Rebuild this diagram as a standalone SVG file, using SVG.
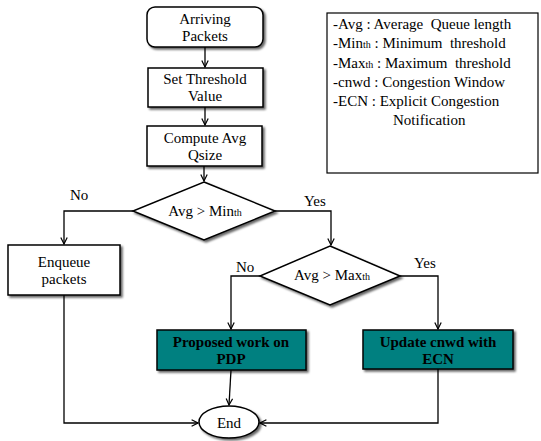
<svg xmlns="http://www.w3.org/2000/svg" width="541" height="441" viewBox="0 0 541 441">
<defs>
<marker id="arr" viewBox="0 0 10 10" refX="9" refY="5" markerWidth="8" markerHeight="8" markerUnits="userSpaceOnUse" orient="auto">
<polyline points="1,1 9,5 1,9" fill="none" stroke="#000" stroke-width="1.5"/>
</marker>
<filter id="sh" x="-10%" y="-10%" width="130%" height="140%">
<feDropShadow dx="2" dy="2" stdDeviation="1" flood-color="#000" flood-opacity="0.6"/>
</filter>
</defs>
<style>
text{font-family:"Liberation Serif","Times New Roman",serif;font-size:15px;fill:#000}
.c{text-anchor:middle}
.b{font-weight:bold}
.box{fill:#fff;stroke:#000;stroke-width:1.5;filter:url(#sh)}
.teal{fill:#008080;stroke:#000;stroke-width:1.5;filter:url(#sh)}
.ln{fill:none;stroke:#000;stroke-width:1.3}
.sub{font-size:10px}
.lg{font-size:15px;white-space:pre}
</style>
<rect width="541" height="441" fill="#fff"/>

<g id="legend">
<rect x="327" y="13" width="211" height="160" fill="#fff" stroke="#000" stroke-width="1.2"/>
<text class="lg" x="333" y="29" xml:space="preserve">-Avg : Average  Queue length</text>
<text class="lg" x="333" y="48" xml:space="preserve">-Min<tspan class="sub">th</tspan> : Minimum  threshold</text>
<text class="lg" x="333" y="68" xml:space="preserve">-Max<tspan class="sub">th</tspan> : Maximum  threshold</text>
<text class="lg" x="333" y="87">-cnwd : Congestion Window</text>
<text class="lg" x="333" y="106">-ECN : Explicit Congestion</text>
<text class="lg" x="393" y="125">Notification</text>
</g>

<g id="connectors">
<line class="ln" x1="205" y1="47" x2="205" y2="67" marker-end="url(#arr)"/>
<line class="ln" x1="205" y1="107" x2="205" y2="125" marker-end="url(#arr)"/>
<line class="ln" x1="204" y1="166" x2="204" y2="181" marker-end="url(#arr)"/>
<polyline class="ln" points="133,211 64,211 64,244" marker-end="url(#arr)"/>
<polyline class="ln" points="275,211 331,211 331,245" marker-end="url(#arr)"/>
<polyline class="ln" points="260,276 231,276 231,329" marker-end="url(#arr)"/>
<polyline class="ln" points="400,276 438,276 438,329" marker-end="url(#arr)"/>
<line class="ln" x1="231" y1="370" x2="229" y2="405" marker-end="url(#arr)"/>
<polyline class="ln" points="64,295 64,423 198,423" marker-end="url(#arr)"/>
<polyline class="ln" points="438,369 438,423 260,423" marker-end="url(#arr)"/>
<text x="70" y="200">No</text>
<text x="304" y="206">Yes</text>
<text x="236" y="272">No</text>
<text x="414" y="268">Yes</text>
</g>

<g id="arriving">
<rect class="box" x="147" y="7" width="116" height="40" rx="8"/>
<text class="c" x="205" y="24">Arriving</text>
<text class="c" x="205" y="41">Packets</text>
</g>

<g id="threshold">
<rect class="box" x="148" y="68" width="115" height="39"/>
<text class="c" x="205" y="84">Set Threshold</text>
<text class="c" x="205" y="101">Value</text>
</g>

<g id="compute">
<rect class="box" x="147" y="126" width="115" height="40"/>
<text class="c" x="205" y="143">Compute Avg</text>
<text class="c" x="205" y="160">Qsize</text>
</g>

<g id="decision1">
<polygon class="box" points="204,182 275,211 204,240 133,211"/>
<text class="c" x="205" y="216">Avg &gt; Min<tspan class="sub">th</tspan></text>
</g>

<g id="enqueue">
<rect class="box" x="8" y="245" width="112" height="50"/>
<text class="c" x="64" y="267">Enqueue</text>
<text class="c" x="64" y="284">packets</text>
</g>

<g id="decision2">
<polygon class="box" points="330,246 400,276 330,305 260,276"/>
<text class="c" x="332" y="280">Avg &gt; Max<tspan class="sub">th</tspan></text>
</g>

<g id="proposed">
<rect class="teal" x="157" y="330" width="149" height="40"/>
<text class="c b" x="231" y="347">Proposed work on</text>
<text class="c b" x="231" y="364">PDP</text>
</g>

<g id="update">
<rect class="teal" x="363" y="330" width="150" height="39"/>
<text class="c b" x="438" y="347">Update cnwd with</text>
<text class="c b" x="438" y="364">ECN</text>
</g>

<g id="end">
<ellipse class="box" cx="229" cy="422" rx="30" ry="16"/>
<text class="c" x="229" y="428">End</text>
</g>
</svg>
